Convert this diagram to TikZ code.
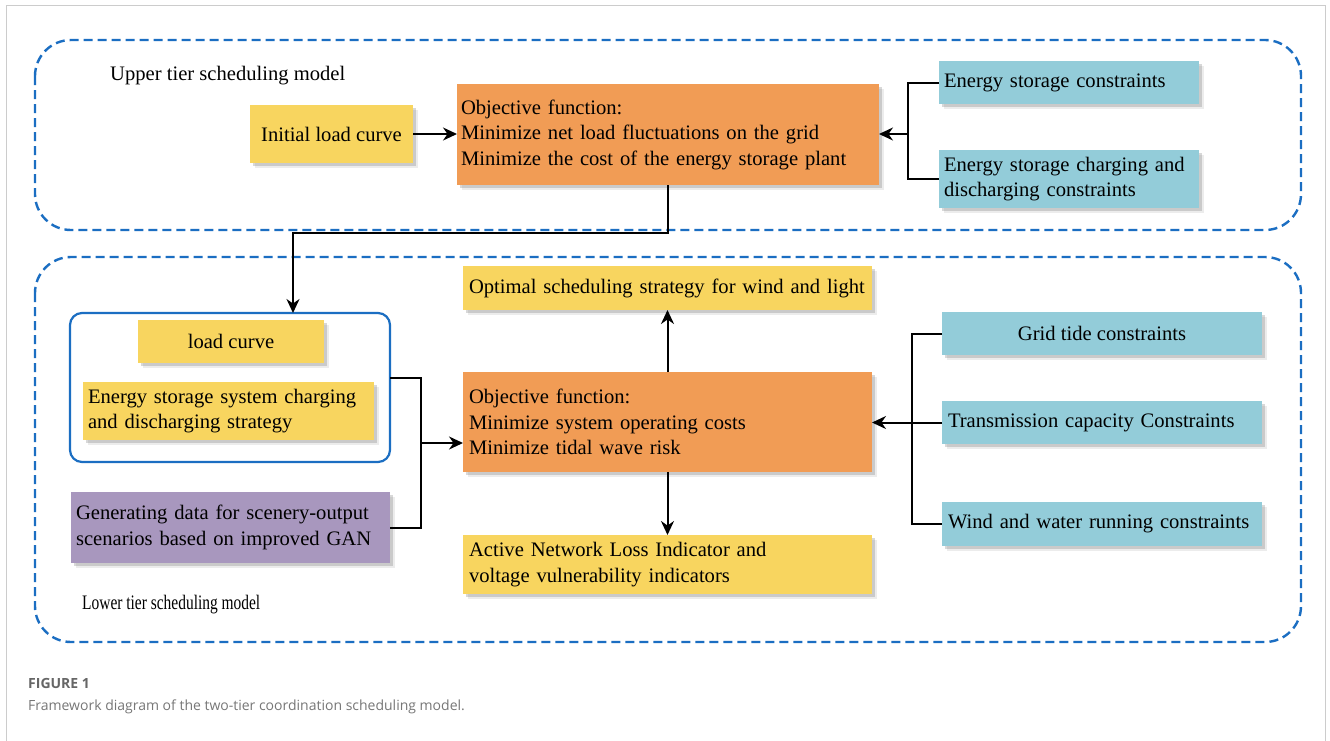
\documentclass[tikz,border=0pt]{standalone}
\usepackage{fontspec}
\setmainfont{Liberation Serif}
\newfontfamily\capfont{Open Sans}
\usetikzlibrary{arrows.meta,shadows,calc}
\definecolor{yel}{HTML}{F8D55F}
\definecolor{org}{HTML}{F19C55}
\definecolor{tea}{HTML}{93CCD9}
\definecolor{pur}{HTML}{A897BE}
\definecolor{bdash}{HTML}{1B6EC2}
\definecolor{capgray}{HTML}{777777}
\begin{document}
\begin{tikzpicture}[x=1pt,y=-1pt,
  font=\fontsize{20.6}{25.5}\selectfont,
  box/.style={draw=none, inner ysep=2pt, outer sep=0pt,
    drop shadow={shadow xshift=4.5pt,shadow yshift=-4.5pt,fill=black!60,opacity=0.12},
    drop shadow={shadow xshift=2.5pt,shadow yshift=-2.5pt,fill=black!60,opacity=0.25}},
  yb/.style={box, fill=yel},
  ob/.style={box, fill=org},
  tb/.style={box, fill=tea},
  pb/.style={box, fill=pur},
  lt/.style={align=left, text width=#1},
  tier/.style={draw=bdash, line width=2.4pt, dash pattern=on 9pt off 5pt, rounded corners=36pt},
  con/.style={draw=black, line width=2pt},
  arr/.style={con, -{Stealth[length=14pt,width=13pt]}}
]
\useasboundingbox (0,0) rectangle (1330,740);
\fill[white] (0,0) rectangle (1330,740);
\draw[black!20, line width=1pt] (6,750) -- (6,5) -- (1325,5) -- (1325,750);

% tier frames
\draw[tier] (35,40) rectangle (1301,230);
\draw[tier] (35,257) rectangle (1301,642);
\node[anchor=west, inner sep=0pt] (utl) at (110,76) {Upper tier scheduling model};
\node[anchor=west, inner sep=0pt] (ltl) at (82,605) {\scalebox{0.75}[1]{Lower tier scheduling model}};

% upper tier
\node[yb, minimum width=163pt, minimum height=58pt, inner xsep=0pt] (init) at (331.5,134) {Initial load curve};
\node[ob, minimum width=422pt, minimum height=101pt, inner xsep=4pt, lt=414pt] (uobj) at (668,134.5)
  {Objective function:\\Minimize net load fluctuations on the grid\\\mbox{Minimize the cost of the energy storage plant}};
\node[tb, minimum width=260pt, minimum height=43pt, inner xsep=5pt, lt=250pt] (esc) at (1069,82.5) {Energy storage constraints};
\node[tb, minimum width=260pt, minimum height=58pt, inner xsep=5pt, lt=250pt] (escd) at (1069,179)
  {\mbox{Energy storage charging and}\\discharging constraints};

% lower tier
\node[draw=bdash, line width=2.2pt, rounded corners=12pt, minimum width=320pt, minimum height=149pt, outer sep=0pt] (grp) at (230,387.5) {};
\node[yb, minimum width=186pt, minimum height=43pt, inner xsep=0pt] (lc) at (231,341.5) {load curve};
\node[yb, minimum width=291pt, minimum height=58pt, inner xsep=5pt, lt=281pt] (ess) at (228.5,411)
  {\mbox{Energy storage system charging}\\and discharging strategy};
\node[pb, minimum width=319pt, minimum height=71pt, inner xsep=5pt, lt=309pt] (gan) at (230.5,527.5)
  {\mbox{Generating data for scenery-output}\\\mbox{scenarios based on improved GAN}};
\node[yb, minimum width=409pt, minimum height=44pt, inner xsep=6pt, lt=397pt] (opt) at (667.5,288)
  {\mbox{Optimal scheduling strategy for wind and light}};
\node[ob, minimum width=409pt, minimum height=100pt, inner xsep=6pt, lt=397pt] (lobj) at (667.5,422)
  {Objective function:\\Minimize system operating costs\\Minimize tidal wave risk};
\node[yb, minimum width=409pt, minimum height=59pt, inner xsep=6pt, lt=397pt] (act) at (667.5,564.5)
  {Active Network Loss Indicator and\\voltage vulnerability indicators};
\node[tb, minimum width=320pt, minimum height=43pt, inner xsep=0pt] (grid) at (1102,333.5) {Grid tide constraints};
\node[tb, minimum width=320pt, minimum height=43pt, inner xsep=6pt, lt=308pt] (trans) at (1102,422.5) {\mbox{Transmission capacity Constraints}};
\node[tb, minimum width=320pt, minimum height=44pt, inner xsep=6pt, lt=308pt] (wind) at (1102,524) {\mbox{Wind and water running constraints}};

% connectors upper
\draw[arr] (init.east) -- (init.east -| uobj.west);
\coordinate (ub) at (908,134);
\draw[con] (esc.west) -| (ub) |- (escd.west);
\draw[arr] (ub) -- (ub -| uobj.east);
\coordinate (dn) at (668,233);
\draw[arr] (uobj.south) -- (dn) -| ([xshift=63pt]grp.north);

% connectors lower
\coordinate (lb) at (421,443);
\draw[con] ([yshift=9.5pt]grp.east) -| (lb) |- (gan.east);
\draw[arr] (lb) -- (lb -| lobj.west);
\draw[arr] (lobj.north) -- (opt.south);
\draw[arr] (lobj.south) -- (act.north);
\coordinate (rb) at (912,422.5);
\draw[con] (grid.west) -| (rb) |- (wind.west);
\draw[arr] (trans.west) -- (trans.west -| lobj.east);

% caption
\node[anchor=west, inner sep=0pt, text=black!60, font=\capfont\bfseries\fontsize{14}{17}\selectfont] (fig) at (28,683) {FIGURE 1};
\node[anchor=west, inner sep=0pt, text=capgray, font=\capfont\fontsize{14}{17}\selectfont] (cap) at (28,707) {Framework diagram of the two-tier coordination scheduling model.};
\end{tikzpicture}
\end{document}
